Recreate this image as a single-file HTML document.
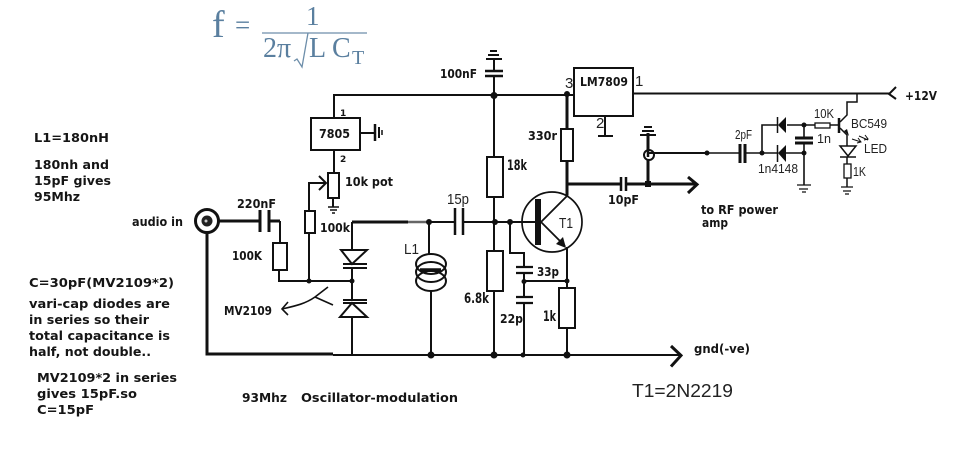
<!DOCTYPE html>
<html><head><meta charset="utf-8"><style>
html,body{margin:0;padding:0;background:#fff;width:979px;height:454px;overflow:hidden}
svg{display:block}
.b text{font-family:"DejaVu Sans","Liberation Sans",sans-serif;font-weight:bold;font-size:12.5px;fill:#151515}
.r text{font-family:"Liberation Sans",sans-serif;font-size:12.5px;fill:#222}
.f text{font-family:"Liberation Serif",serif;fill:#5a7f9f}
.w{fill:none;stroke:#111;stroke-width:2}
</style></head><body>
<svg width="979" height="454" viewBox="0 0 979 454" xmlns="http://www.w3.org/2000/svg">
<rect width="979" height="454" fill="#fff"/>
<!-- formula -->
<g class="f">
<text x="212" y="37" font-size="38">f</text>
<text x="235" y="34" font-size="27">=</text>
<text x="306" y="25" font-size="27">1</text>
<text x="263" y="57" font-size="28">2π</text>
<text x="309" y="57" font-size="28">L</text>
<text x="332" y="57" font-size="28">C</text>
<text x="352" y="64" font-size="20">T</text>
</g>
<path d="M262 33H367M308 33L302 67L297 59L294 61" fill="none" stroke="#6d8eaa" stroke-width="1.300"/>
<!-- wires -->
<g class="w">
<path d="M334 118V95H574"/>
<path d="M334 150V173M333 198V207"/>
<path d="M360 133H375"/>
<path d="M309 211V183H325M319 176l7 7-7 7"/>
<path d="M309 233V281M279 270V281H352"/>
<path d="M494 95V157M494 197V251M494 291V355M494 59V71M494 76V95"/>
<path d="M352 222V250M352 268V300M352 317V355"/>
<path d="M429 222V255M431 290V355"/>
<path d="M429 222H455M463 222H538"/>
<path d="M510 222V253H524V267M524 273V297M524 303V355M524 281H567"/>
<path d="M567 247V288M567 328V355"/>
<path d="M333 355H679"/>
<path d="M605 116V136M598 136H613"/>
<path d="M633 93.500H890"/>
<path d="M896 87l-7 7 7 5"/>
<path d="M282 309C295 306 305 304 315 297L328 287M315 297L333 305M288 302l-6 7 6 6" stroke-width="1.600"/>
</g>
<path d="M408 222H429" stroke="#666" stroke-width="2.500" fill="none"/>
<g fill="none" stroke="#111" stroke-width="3">
<path d="M207 233V354H333"/>
<path d="M352 222H408"/>
<path d="M207 221H260M269 221H280"/>
<path d="M567 95V129M567 161V195M567 184H621M626 184H697"/>
<path d="M688 177l9 7.500-9 8.500"/>
<path d="M671 346l10 9.500-10 11"/>
<path d="M648 133V184"/>
</g>
<path d="M280 221V243" stroke="#111" stroke-width="2"/>
<!-- grounds and top cap -->
<g stroke="#111" fill="none">
<path d="M375 124V141" stroke-width="2.500"/><path d="M379 127V138" stroke-width="2"/><path d="M382 130V135" stroke-width="1.500"/>
<path d="M328 207H339M330 210H337M332 213H335" stroke-width="1.500"/>
<path d="M486 59H502" stroke-width="2"/><path d="M488 55H499M490 51H497" stroke-width="2"/>
<path d="M485 71H503M485 76H503" stroke-width="2.500"/>
</g>
<!-- boxes -->
<g fill="#fff" stroke="#111" stroke-width="2">
<rect x="311" y="118" width="49" height="32"/>
<rect x="574" y="68" width="59" height="48"/>
<rect x="328" y="173" width="11" height="25"/>
<rect x="305" y="211" width="10" height="22"/>
<rect x="273" y="243" width="14" height="27"/>
<rect x="487" y="157" width="16" height="40"/>
<rect x="487" y="251" width="16" height="40"/>
<rect x="561" y="129" width="12" height="32"/>
<rect x="559" y="288" width="16" height="40"/>
</g>
<!-- jack -->
<circle cx="207" cy="221" r="11.500" fill="#fff" stroke="#111" stroke-width="3"/>
<circle cx="207" cy="221" r="5.500" fill="#222"/>
<circle cx="206" cy="221" r="1.500" fill="#ccc"/>
<!-- caps -->
<g stroke="#111" fill="none">
<path d="M260 210V232M269 210V232" stroke-width="3"/>
<path d="M455 208V235M463 208V235" stroke-width="2.500"/>
<path d="M621 177V191M626 177V191" stroke-width="2.500"/>
<path d="M516 267H533M516 273H533M516 297H533M516 303H533" stroke-width="2.200"/>
<path d="M343 264H367M343 268H367M343 300H367M343 303H367" stroke-width="2"/>
<path d="M341 250H367L352 264ZM340 317H367L352 303Z" stroke-width="2" fill="#fff"/>
</g>
<!-- coil -->
<g fill="none" stroke="#111" stroke-width="2">
<ellipse cx="431" cy="264" rx="15" ry="10"/>
<ellipse cx="431" cy="272" rx="15" ry="10"/>
<ellipse cx="431" cy="281" rx="15" ry="10"/>
<path d="M420 270H441" stroke-width="3.500"/>
</g>
<!-- transistor -->
<circle cx="552" cy="222" r="30" fill="none" stroke="#111" stroke-width="1.700"/>
<rect x="535" y="199" width="6" height="46" fill="#111"/>
<path d="M541 222L568 195M541 222L565 246" fill="none" stroke="#111" stroke-width="1.800"/>
<path d="M566 248L556 244L563 237Z" fill="#111"/>
<!-- dots -->
<g fill="#111">
<circle cx="494" cy="95.500" r="3.500"/><circle cx="567" cy="94" r="3"/>
<circle cx="429" cy="222" r="3"/><circle cx="495" cy="222" r="3"/><circle cx="510" cy="222" r="3"/>
<circle cx="309" cy="281" r="2.500"/><circle cx="352" cy="281" r="2.500"/>
<circle cx="524" cy="281.500" r="2.500"/><circle cx="567" cy="281" r="2.500"/>
<circle cx="431" cy="355" r="3.500"/><circle cx="494" cy="355" r="3.500"/><circle cx="523" cy="355" r="2.500"/><circle cx="567" cy="355" r="3.500"/>
<rect x="645" y="181" width="6" height="6"/>
<circle cx="707" cy="153" r="2.500"/><circle cx="762" cy="153" r="2.500"/><circle cx="804" cy="125" r="2.500"/><circle cx="804" cy="153" r="2.500"/>
</g>
<!-- right side -->
<g fill="none" stroke="#111">
<path d="M644 127H652M642 131H654M640 135H656" stroke-width="2"/>
<circle cx="649" cy="155" r="5" fill="#fff" stroke-width="2"/>
<path d="M648 135V157" stroke-width="2.500"/>
<path d="M649 153H707" stroke-width="2"/>
<path d="M707 153H740M745 153H778M786 153H804M778 125H762V153M787 125H815M830 125H839" stroke-width="1.600"/>
<path d="M740 144V163M745 144V163" stroke-width="3"/>
<path d="M804 125V138M804 143V185" stroke-width="1.600"/>
<path d="M795 138H813M795 143H813" stroke-width="3"/>
<path d="M797 185H811M799 189H808M802 192H806" stroke-width="1.300"/>
<path d="M857 94V102H847V115L840 122M840 128L847 135V146M847 157V164M847 178V187" stroke-width="1.500"/>
<path d="M839 118V133" stroke-width="2.500"/>
<path d="M841 187H853M843 191H851M845 194H849" stroke-width="1.300"/>
<path d="M840 146H856L848 156ZM840 157H856" stroke-width="1.500"/>
<path d="M852 139L861 142M858 138l3 4-4 1M859 136L868 140M865 135l3 4-4 1" stroke-width="1"/>
<rect x="815" y="123" width="15" height="5" stroke-width="1.300" fill="#fff"/>
<rect x="844" y="164" width="7" height="14" stroke-width="1.300" fill="#fff"/>
</g>
<path d="M778 125L786 117V133ZM778 153L786 145V162Z" fill="#111"/>
<path d="M777.500 117V133M777.500 145V162" stroke="#111" stroke-width="1.500"/>
<path d="M849 136L844 131L847 129Z" fill="#111"/>
<!-- bold labels -->
<g class="b">
<text x="34" y="142" textLength="75" lengthAdjust="spacingAndGlyphs">L1=180nH</text>
<text x="34" y="169" textLength="75" lengthAdjust="spacingAndGlyphs">180nh and</text>
<text x="34" y="185" textLength="77" lengthAdjust="spacingAndGlyphs">15pF gives</text>
<text x="34" y="201" textLength="46" lengthAdjust="spacingAndGlyphs">95Mhz</text>
<text x="132" y="226" textLength="51" lengthAdjust="spacingAndGlyphs">audio in</text>
<text x="237" y="208" textLength="39" lengthAdjust="spacingAndGlyphs">220nF</text>
<text x="232" y="260" textLength="30" lengthAdjust="spacingAndGlyphs">100K</text>
<text x="320" y="232" textLength="30" lengthAdjust="spacingAndGlyphs">100k</text>
<text x="345" y="186" textLength="48" lengthAdjust="spacingAndGlyphs">10k pot</text>
<text x="319" y="138" textLength="31" lengthAdjust="spacingAndGlyphs">7805</text>
<text x="340" y="116" style="font-size:9px">1</text>
<text x="340" y="162" style="font-size:9px">2</text>
<text x="224" y="315" textLength="48" lengthAdjust="spacingAndGlyphs">MV2109</text>
<text x="29" y="287" textLength="145" lengthAdjust="spacingAndGlyphs">C=30pF(MV2109*2)</text>
<text x="29" y="308" textLength="141" lengthAdjust="spacingAndGlyphs">vari-cap diodes are</text>
<text x="29" y="324" textLength="120" lengthAdjust="spacingAndGlyphs">in series so their</text>
<text x="29" y="340" textLength="141" lengthAdjust="spacingAndGlyphs">total capacitance is</text>
<text x="29" y="356" textLength="122" lengthAdjust="spacingAndGlyphs">half, not double..</text>
<text x="37" y="382" textLength="140" lengthAdjust="spacingAndGlyphs">MV2109*2 in series</text>
<text x="37" y="398" textLength="100" lengthAdjust="spacingAndGlyphs">gives 15pF.so</text>
<text x="37" y="414" textLength="57" lengthAdjust="spacingAndGlyphs">C=15pF</text>
<text x="242" y="402" textLength="45" lengthAdjust="spacingAndGlyphs">93Mhz</text>
<text x="301" y="402" textLength="157" lengthAdjust="spacingAndGlyphs">Oscillator-modulation</text>
<text x="694" y="353" textLength="56" lengthAdjust="spacingAndGlyphs">gnd(-ve)</text>
<text x="440" y="78" textLength="37" lengthAdjust="spacingAndGlyphs">100nF</text>
<text x="580" y="86" textLength="48" lengthAdjust="spacingAndGlyphs">LM7809</text>
<text x="528" y="140" textLength="29" lengthAdjust="spacingAndGlyphs">330r</text>
<text x="537" y="276" textLength="22" lengthAdjust="spacingAndGlyphs">33p</text>
<text x="500" y="323" textLength="23" lengthAdjust="spacingAndGlyphs">22p</text>
<text x="608" y="204" textLength="31" lengthAdjust="spacingAndGlyphs">10pF</text>
<text x="905" y="100" textLength="32" lengthAdjust="spacingAndGlyphs">+12V</text>
<text x="701" y="214" textLength="77" lengthAdjust="spacingAndGlyphs">to RF power</text>
<text x="702" y="227" textLength="26" lengthAdjust="spacingAndGlyphs">amp</text>
<text x="464" y="303" style="font-size:14px" textLength="25" lengthAdjust="spacingAndGlyphs">6.8k</text>
<text x="507" y="170" style="font-size:14px" textLength="20" lengthAdjust="spacingAndGlyphs">18k</text>
<text x="543" y="321" style="font-size:14px" textLength="13" lengthAdjust="spacingAndGlyphs">1k</text>
</g>
<!-- regular labels -->
<g class="r">
<text x="632" y="397" style="font-size:18px" textLength="101" lengthAdjust="spacingAndGlyphs">T1=2N2219</text>
<text x="447" y="204" style="font-size:15px" textLength="22" lengthAdjust="spacingAndGlyphs">15p</text>
<text x="559" y="228" style="font-size:15px" textLength="14" lengthAdjust="spacingAndGlyphs">T1</text>
<text x="404" y="254" style="font-size:15px" textLength="15" lengthAdjust="spacingAndGlyphs">L1</text>
<text x="565" y="88" style="font-size:15px">3</text>
<text x="635" y="86" style="font-size:15px">1</text>
<text x="596" y="128" style="font-size:15px">2</text>
<text x="735" y="139" textLength="17" lengthAdjust="spacingAndGlyphs">2pF</text>
<text x="814" y="118" textLength="20" lengthAdjust="spacingAndGlyphs">10K</text>
<text x="851" y="128" textLength="36" lengthAdjust="spacingAndGlyphs">BC549</text>
<text x="817" y="143" textLength="14" lengthAdjust="spacingAndGlyphs">1n</text>
<text x="864" y="153" textLength="23" lengthAdjust="spacingAndGlyphs">LED</text>
<text x="853" y="176" textLength="13" lengthAdjust="spacingAndGlyphs">1K</text>
<text x="758" y="173" textLength="40" lengthAdjust="spacingAndGlyphs">1n4148</text>
</g>
</svg>
</body></html>
